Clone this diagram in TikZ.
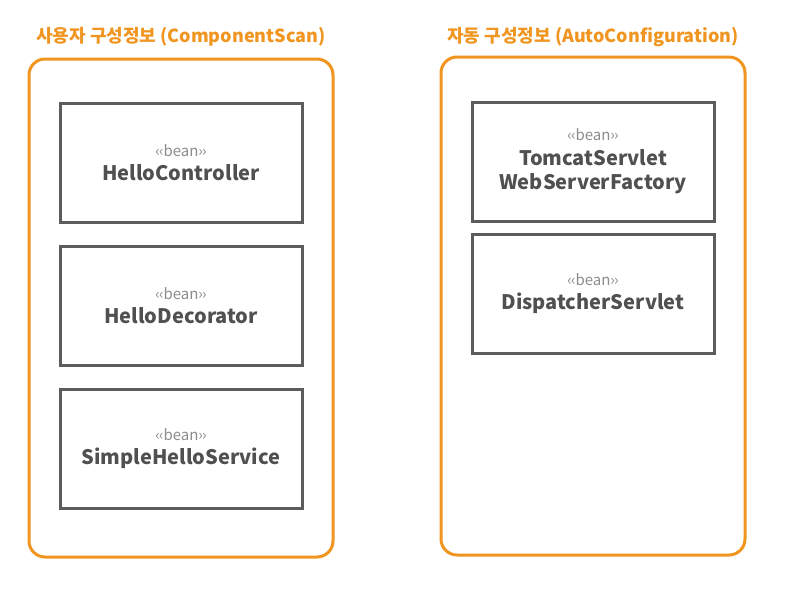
\documentclass[tikz,border=0pt]{standalone}
\usepackage{fontspec}
\setmainfont{Noto Sans CJK KR}
\usetikzlibrary{positioning}
\definecolor{groupline}{HTML}{F0951F}
\definecolor{beanline}{HTML}{5C5C5C}
\definecolor{beantext}{HTML}{505050}
\definecolor{stereo}{HTML}{8C8C8C}
\tikzset{
  group/.style={draw=groupline, line width=3pt, rounded corners=16pt, minimum width=304pt, minimum height=498pt},
  grouptitle/.style={text=groupline, font=\fontsize{18}{21}\selectfont\bfseries},
  beanbox/.style={draw=beanline, line width=3pt, outer sep=0pt, minimum width=242pt, minimum height=119pt, align=center, text=beantext, font=\fontsize{20}{24.5}\selectfont\bfseries},
}
\newcommand{\beanmark}{{\color{stereo}\fontsize{15}{17}\selectfont\mdseries ‹\kern-1pt‹bean›\kern-1pt›}}
\begin{document}
\begin{tikzpicture}[x=1pt, y=-1pt]
    \useasboundingbox (0,0) rectangle (796,608);
    % Grupos de configuracion
    \node (user) [group] at (181,308) {};
    \node (usertitle) [grouptitle] at (181,37) {사용자 구성정보 (ComponentScan)};

    \node (auto) [group] at (593,306) {};
    \node (autotitle) [grouptitle] at (593,37) {자동 구성정보 (AutoConfiguration)};

    % Beans del usuario
    \node (controller) [beanbox] at (181,162.5) {\beanmark\\HelloController};
    \node (decorator) [beanbox, below=24pt of controller] {\beanmark\\HelloDecorator};
    \node (service) [beanbox, below=24pt of decorator] {\beanmark\\SimpleHelloService};

    % Beans automaticos
    \node (tomcat) [beanbox] at (593,161.5) {\beanmark\\TomcatServlet\\WebServerFactory};
    \node (dispatcher) [beanbox, below=13pt of tomcat] {\beanmark\\DispatcherServlet};
\end{tikzpicture}
\end{document}
